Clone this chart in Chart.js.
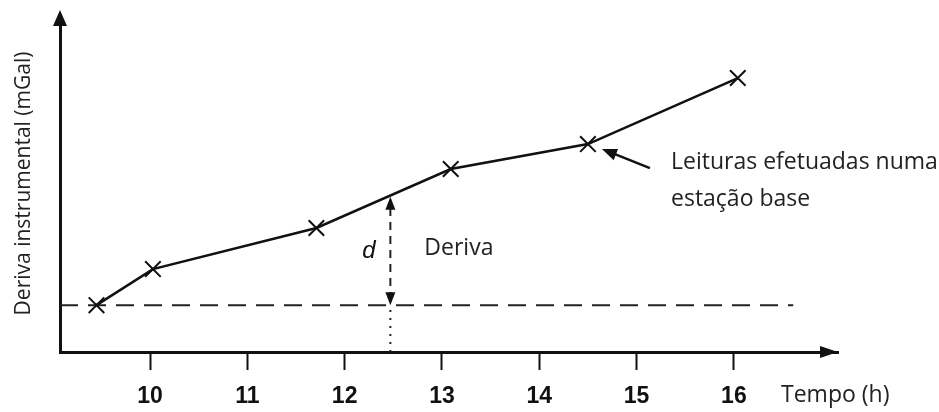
<!DOCTYPE html>
<html>
<head>
<meta charset="utf-8">
<script src="https://cdn.jsdelivr.net/npm/chart.js@4"></script>
<style>
  body { margin: 0; background: #fff; }
  canvas { display: block; }
</style>
</head>
<body>
<canvas id="myChart" width="939" height="412"></canvas>
<script>
// readings at the base station (time in hours, drift in arbitrary units)
const readHours = [9.45, 10.03, 11.71, 13.09, 14.5, 16.04];
const readDrift = [13.9, 24.6, 36.8, 54.3, 61.7, 81.3];
const hourTicks = [10, 11, 12, 13, 14, 15, 16];
// reference level and the drift marker
const baseHours = [9.075, 16.61];
const baseDrift = 13.9;
const driftHour = 12.47;
const driftTop = 46.4;

const ink = '#111';

function head(ctx, x, y, ang, len, half) {
    ctx.save();
    ctx.translate(x, y);
    ctx.rotate(ang);
    ctx.beginPath();
    ctx.moveTo(0, 0);
    ctx.lineTo(-len, -half);
    ctx.lineTo(-len, half);
    ctx.closePath();
    ctx.fill();
    ctx.restore();
}

const notes = {
    id: 'notes',
    afterDatasetsDraw(chart) {
        const ctx = chart.ctx;
        const xs = chart.scales.x, ys = chart.scales.y;
        const a = chart.chartArea;
        ctx.save();
        ctx.fillStyle = ink;
        ctx.strokeStyle = ink;
        // axis arrows
        head(ctx, a.left, a.top - 5, -Math.PI / 2, 16, 7);
        head(ctx, a.right, a.bottom, 0, 18, 6);

        // drift arrow heads
        const dx = xs.getPixelForValue(driftHour);
        head(ctx, dx, ys.getPixelForValue(driftTop) + 1, -Math.PI / 2, 13, 5);
        head(ctx, dx, ys.getPixelForValue(baseDrift), Math.PI / 2, 13, 5);

        ctx.textBaseline = 'middle';
        ctx.font = 'italic 24px "Liberation Sans"';
        ctx.fillText('d', dx - 28, ys.getPixelForValue(30));
        ctx.font = '23px "Open Sans"';
        ctx.fillStyle = '#222';
        ctx.fillText('Deriva', dx + 34, ys.getPixelForValue(30.8));

        // pointer to the base station readings
        const px = xs.getPixelForValue(readHours[4]);
        const py = ys.getPixelForValue(readDrift[4]);
        const tipX = px + 14, tipY = py + 5;
        const endX = px + 62, endY = py + 24;
        ctx.lineWidth = 2.5;
        ctx.beginPath();
        ctx.moveTo(endX, endY);
        ctx.lineTo(tipX + 8, tipY + 3);
        ctx.stroke();
        ctx.fillStyle = ink;
        head(ctx, tipX, tipY, Math.atan2(tipY - endY, tipX - endX), 15, 6);

        ctx.fillStyle = '#222';
        ctx.font = '23px "Open Sans"';
        ctx.fillText('Leituras efetuadas numa', 671, 162);
        ctx.fillText('estação base', 671, 199);
        ctx.fillText('Tempo (h)', 781, 395);
        ctx.restore();
    }
};

const ctx = document.getElementById('myChart').getContext('2d');
const myChart = new Chart(ctx, {
    type: 'scatter',
    data: {
        datasets: [{
            label: 'Leituras',
            data: readHours.map((h, i) => ({x: h, y: readDrift[i]})),
            showLine: true,
            borderColor: ink,
            borderWidth: 2.5,
            pointStyle: 'crossRot',
            pointRadius: 11,
            pointBorderWidth: 2,
            pointBorderColor: ink
        }, {
            label: 'Base',
            data: baseHours.map(h => ({x: h, y: baseDrift})),
            showLine: true,
            borderColor: '#222',
            borderWidth: 2,
            borderDash: [18, 10],
            pointRadius: 0
        }, {
            label: 'Deriva',
            data: [{x: driftHour, y: baseDrift + 1.5}, {x: driftHour, y: driftTop - 2.5}],
            showLine: true,
            borderColor: '#222',
            borderWidth: 2,
            borderDash: [8, 6],
            pointRadius: 0
        }, {
            label: 'Guia',
            data: [{x: driftHour, y: 0}, {x: driftHour, y: baseDrift}],
            showLine: true,
            borderColor: '#222',
            borderWidth: 2,
            borderDash: [2, 6],
            pointRadius: 0
        }]
    },
    options: {
        responsive: false,
        animation: false,
        layout: { padding: { top: 15, right: 101, left: 0, bottom: 0 } },
        plugins: { legend: { display: false }, tooltip: { enabled: false } },
        scales: {
            x: {
                type: 'linear',
                min: 9.075,
                max: 17.07,
                afterFit: s => { s.height = 60; },
                afterBuildTicks: s => { s.ticks = hourTicks.map(v => ({value: v})); },
                border: { display: true, color: ink, width: 3 },
                grid: { drawOnChartArea: false, drawTicks: true, tickLength: 18, tickWidth: 2, tickColor: ink },
                ticks: { color: ink, padding: 13, font: { family: '"Liberation Sans"', size: 23, weight: 'bold' } }
            },
            y: {
                min: 0,
                max: 100,
                afterFit: s => { s.width = 60; },
                border: { display: true, color: ink, width: 3 },
                grid: { drawOnChartArea: false, drawTicks: false },
                ticks: { display: false },
                title: {
                    display: true,
                    text: 'Deriva instrumental (mGal)',
                    color: '#222',
                    padding: { top: 11, bottom: 0 },
                    font: { family: '"Open Sans"', size: 21 }
                }
            }
        }
    },
    plugins: [notes]
});
</script>
</body>
</html>
